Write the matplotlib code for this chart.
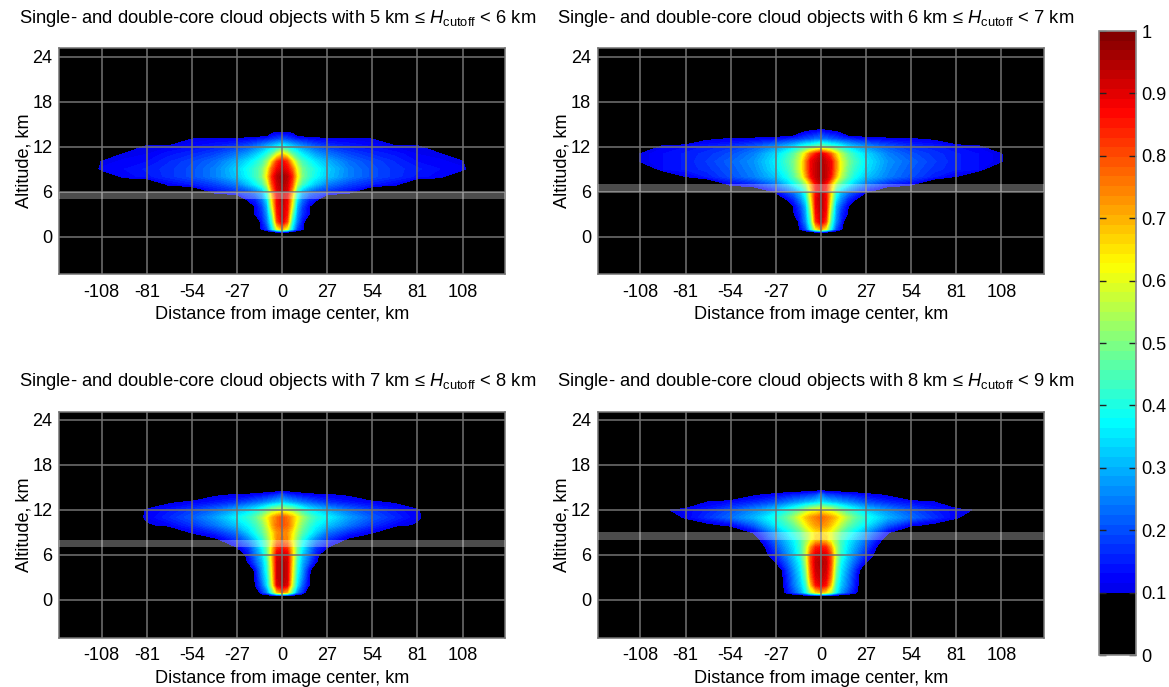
import numpy as np
import matplotlib
matplotlib.use('Agg')
import matplotlib.pyplot as plt
from matplotlib.colors import LinearSegmentedColormap, ListedColormap, BoundaryNorm

plt.rcParams['font.family'] = ['Liberation Sans', 'DejaVu Sans']
plt.rcParams['mathtext.fontset'] = 'custom'
plt.rcParams['mathtext.rm'] = 'Liberation Sans'
plt.rcParams['mathtext.it'] = 'Liberation Sans:italic'
plt.rcParams['axes.unicode_minus'] = False

# values, one row per altitude, distance from center
# rows are cut short where the field is black (zero)
distances = [0, 3, 6, 9, 12, 16, 20, 27, 40, 54, 68, 81, 95, 108, 118]
altitudes = [1, 2, 3, 4, 5, 6, 7, 8, 9, 10, 11, 12, 13, 14]

field_5_6 = [
    [.70, .60, .35, .18, .12],
    [.92, .80, .42, .24, .14],
    [.93, .85, .50, .27, .17, .11],
    [.93, .87, .60, .30, .19, .11],
    [.94, .88, .65, .36, .24, .16, .14],
    [.94, .90, .72, .42, .30, .24, .20, .17, .13],
    [.96, .92, .80, .56, .44, .37, .32, .25, .19, .15, .12],
    [.97, .94, .84, .64, .50, .43, .38, .32, .25, .20, .17, .14, .12],
    [.92, .88, .78, .60, .49, .43, .39, .33, .25, .20, .17, .15, .13, .12],
    [.88, .82, .66, .52, .44, .39, .35, .30, .23, .19, .16, .13, .12, .105],
    [.66, .58, .47, .41, .36, .32, .28, .24, .19, .16, .14, .115, .105],
    [.40, .36, .33, .30, .27, .24, .21, .18, .15, .13, .11, .115],
    [.20, .19, .17, .15, .14, .13, .12, .11, .11, .10],
    [.09, .09, .08],
]
field_6_7 = [
    [.72, .62, .38, .20, .12],
    [.92, .82, .45, .26, .16],
    [.93, .86, .50, .28, .17, .10],
    [.94, .88, .56, .30, .20, .11],
    [.95, .88, .62, .36, .26, .17, .12],
    [.93, .86, .66, .42, .32, .25, .20, .12],
    [.93, .87, .70, .54, .45, .38, .32, .24, .16, .12],
    [.96, .93, .86, .70, .56, .46, .39, .32, .25, .20, .15, .10],
    [.96, .93, .88, .74, .60, .49, .42, .35, .26, .21, .17, .15, .13],
    [.96, .92, .88, .74, .60, .50, .44, .36, .27, .22, .18, .15, .13, .105],
    [.92, .86, .78, .66, .56, .47, .41, .34, .25, .20, .17, .15, .13, .105],
    [.50, .47, .44, .42, .39, .34, .31, .27, .21, .17, .15, .13, .11],
    [.24, .23, .21, .20, .18, .17, .15, .13, .115, .105, .09],
    [.14, .12, .11, .10, .08],
]
field_7_8 = [
    [.75, .68, .45, .25, .17],
    [.94, .90, .58, .35, .22, .105],
    [.95, .92, .62, .37, .26, .11],
    [.95, .92, .64, .40, .28, .13],
    [.95, .92, .66, .42, .30, .20, .11],
    [.92, .90, .68, .46, .33, .24, .14],
    [.85, .82, .66, .48, .37, .27, .18, .10],
    [.76, .74, .62, .50, .40, .32, .25, .17, .08],
    [.75, .73, .64, .54, .46, .39, .33, .24, .16, .11],
    [.80, .77, .70, .58, .50, .43, .38, .32, .24, .17, .12, .09],
    [.80, .76, .70, .62, .54, .47, .42, .37, .28, .21, .16, .115],
    [.58, .55, .52, .47, .42, .37, .34, .30, .23, .18, .14, .11],
    [.32, .30, .28, .26, .24, .22, .20, .17, .14, .115, .09],
    [.20, .17, .15, .14, .13, .12, .11, .105, .09],
]
field_8_9 = [
    [.70, .65, .55, .38, .28, .20, .13],
    [.90, .86, .68, .42, .32, .24, .15],
    [.93, .90, .75, .47, .34, .25, .16],
    [.94, .92, .78, .50, .36, .27, .18],
    [.95, .93, .80, .54, .38, .30, .22, .10],
    [.92, .90, .80, .56, .42, .33, .26, .15],
    [.86, .84, .72, .55, .43, .35, .29, .19],
    [.68, .67, .60, .52, .44, .37, .32, .23, .05],
    [.66, .65, .60, .54, .47, .41, .36, .28, .11],
    [.74, .72, .68, .62, .55, .48, .43, .36, .22, .12, .08],
    [.78, .75, .72, .68, .62, .54, .48, .40, .30, .23, .17, .115],
    [.63, .60, .58, .53, .48, .43, .39, .33, .26, .20, .15, .12, .09],
    [.35, .33, .31, .30, .28, .26, .24, .20, .16, .13, .105],
    [.25, .19, .18, .17, .16, .15, .14, .12, .09],
]

fields = [field_5_6, field_6_7, field_7_8, field_8_9]
cutoffs = [(5, 6), (6, 7), (7, 8), (8, 9)]
x_ticks = [-108, -81, -54, -27, 0, 27, 54, 81, 108]
y_ticks = [0, 6, 12, 18, 24]
cbar_ticks = [0, .1, .2, .3, .4, .5, .6, .7, .8, .9, 1]
cbar_labels = ['0', '0.1', '0.2', '0.3', '0.4', '0.5', '0.6', '0.7', '0.8', '0.9', '1']

W, H = 1169, 687
GRID = '#737373'
FS = 13.1


def axes_box(left, top, right, bottom):
    return [left / W, 1 - bottom / H, (right - left) / W, (bottom - top) / H]


def mirrored_field(rows):
    # pad rows with zeros, black rows below and above, then mirror left/right
    table = np.zeros((len(altitudes) + 2, len(distances)))
    for i, row in enumerate(rows):
        table[i + 1, :len(row)] = row
    full = np.hstack([table[:, :0:-1], table])
    x = np.array(distances)
    x = np.concatenate([-x[:0:-1], x])
    z = np.array([0.5] + altitudes + [15])
    return x, z, full


# jet with MATLAB's stops, black under 0.1
jet = LinearSegmentedColormap.from_list('jet64', [
    (0, (0, 0, .56)), (.125, (0, 0, 1)), (.375, (0, 1, 1)),
    (.625, (1, 1, 0)), (.875, (1, 0, 0)), (1, (.5, 0, 0))])
levels = np.concatenate([[0], np.linspace(.1, 1, 59)])
mids = (levels[:-1] + levels[1:]) / 2
colors = [jet(m) for m in mids]
colors[0] = (0, 0, 0, 1)
cmap = ListedColormap(colors)
norm = BoundaryNorm(levels, cmap.N)

fig = plt.figure(figsize=(W / 100, H / 100), dpi=100)

boxes = [(59.3, 48.3, 505, 274), (598, 48.3, 1043.7, 274),
         (59.3, 411.5, 505, 637.5), (598, 411.5, 1043.7, 637.5)]
title_pos = [(19, 23), (557, 23), (19, 386), (557, 386)]

cf = None
for i in range(4):
    ax = fig.add_axes(axes_box(*boxes[i]))
    ax.set_facecolor('black')
    x, z, f = mirrored_field(fields[i])
    cf = ax.contourf(x, z, f, levels=levels, cmap=cmap, norm=norm)
    low, high = cutoffs[i]
    ax.axhspan(low, high, color='white', alpha=.3, lw=0, zorder=3)
    ax.set_xlim(-133.4, 133.4)
    ax.set_ylim(-5, 25.1)
    ax.set_xticks(x_ticks)
    ax.set_yticks(y_ticks)
    ax.tick_params(length=0, labelsize=FS)
    ax.tick_params(axis='x', pad=7)
    ax.tick_params(axis='y', pad=5)
    ax.grid(True, color=GRID, lw=1.1, zorder=4)
    ax.set_axisbelow(False)
    for s in ax.spines.values():
        s.set_color(GRID)
        s.set_linewidth(1.1)
    ax.set_xlabel('Distance from image center, km', fontsize=FS, labelpad=4)
    ax.set_ylabel('Altitude, km', fontsize=FS, labelpad=0)
    tx, ty = title_pos[i]
    fig.text(tx / W, 1 - ty / H,
             f'Single- and double-core cloud objects with {low} km ≤ $\\mathit{{H}}_{{\\mathrm{{cutoff}}}}$ < {high} km',
             fontsize=13.2, ha='left', va='baseline')

cax = fig.add_axes(axes_box(1099, 31, 1136, 655))
cb = fig.colorbar(cf, cax=cax, spacing='proportional', ticks=cbar_ticks)
cb.ax.set_yticklabels(cbar_labels)
cb.ax.minorticks_off()
cb.ax.tick_params(direction='in', length=5, width=1, left=True, right=True,
                  labelsize=FS, color='#222222', pad=4)
cb.outline.set_edgecolor('#8a8a8a')
cb.outline.set_linewidth(1.2)

fig.savefig('out.png', dpi=100)
